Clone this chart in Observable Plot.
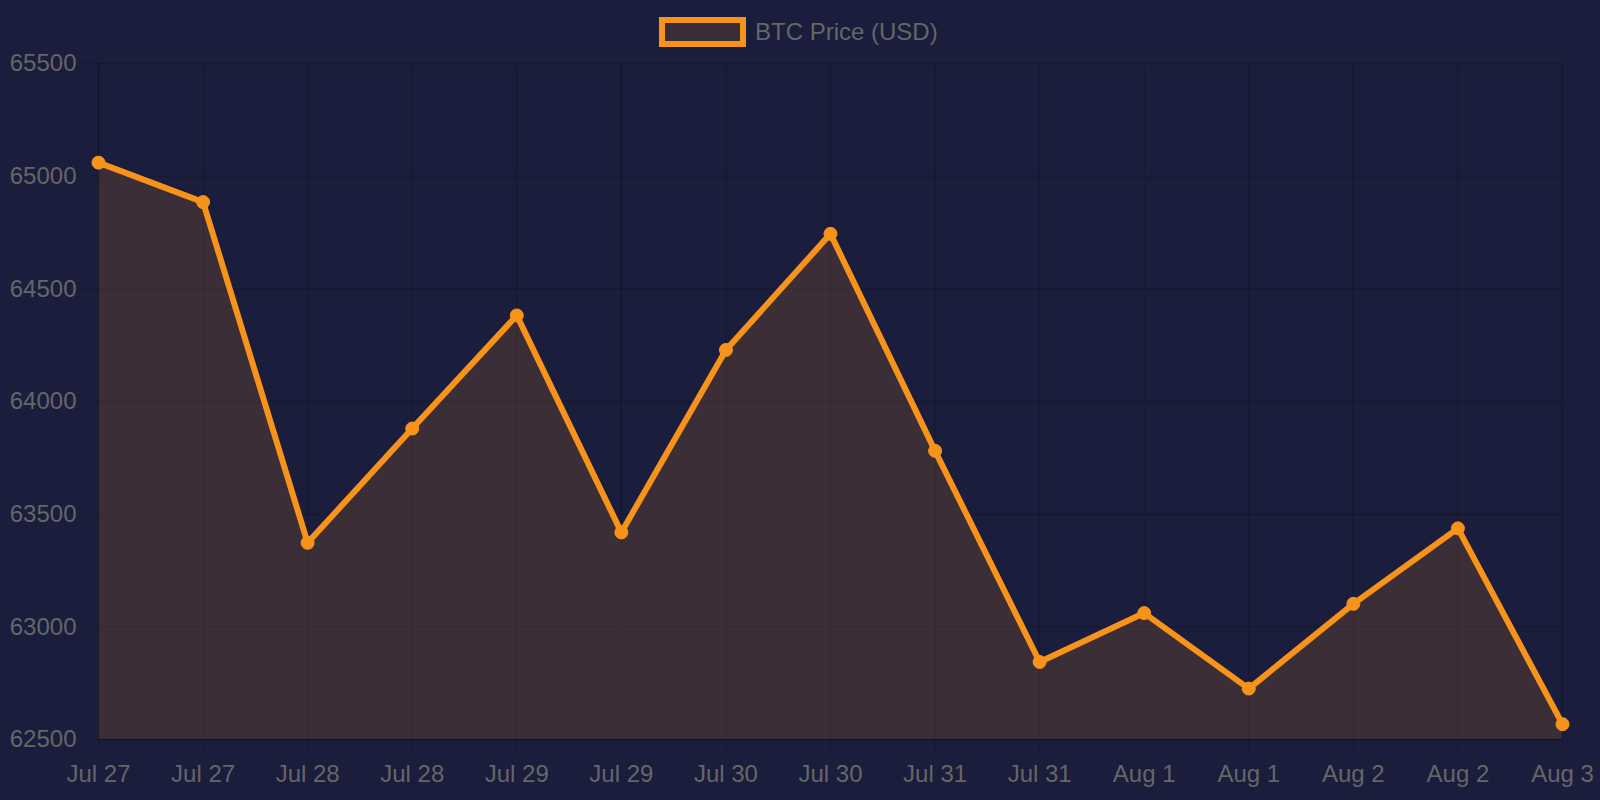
<!DOCTYPE html>
<html>
<head>
<meta charset="utf-8">
<script src="https://cdn.jsdelivr.net/npm/d3@7"></script>
<script src="https://cdn.jsdelivr.net/npm/@observablehq/plot@0.6"></script>
<style>
  html, body { margin: 0; padding: 0; background: #1a1d3b; width: 1600px; height: 800px; overflow: hidden; }
  #legend { height: 48px; position: relative; font-family: "Liberation Sans", Arial, sans-serif; }
  #legend .box { position: absolute; left: 659px; top: 17px; width: 75px; height: 18px; border: 6px solid #f7931a; background: rgba(247,147,26,0.15); }
  #legend .label { position: absolute; left: 755px; top: 17px; line-height: 30px; font-size: 24px; color: #666666; }
  svg { display: block; }
</style>
</head>
<body>
<div id="legend"><div class="box"></div><div class="label">BTC Price (USD)</div></div>
<div id="chart"></div>
<script>
const labels = ["Jul 27","Jul 27","Jul 28","Jul 28","Jul 29","Jul 29","Jul 30","Jul 30","Jul 31","Jul 31","Aug 1","Aug 1","Aug 2","Aug 2","Aug 3"];
const prices = [65060, 64885, 63373, 63880, 64382, 63419, 64229, 64744, 63781, 62844, 63061, 62726, 63102, 63437, 62568];
const yTicks = [62500, 63000, 63500, 64000, 64500, 65000, 65500];
const seriesName = "BTC Price (USD)";

const data = prices.map((p, i) => ({i, label: labels[i], price: p}));
const orange = "#f7931a";
const gridColor = "rgba(0,0,0,0.11)";

const chart = Plot.plot({
  width: 1600,
  height: 752,
  marginTop: 15,
  marginBottom: 61,
  marginLeft: 98,
  marginRight: 38,
  style: { background: "transparent", fontFamily: "'Liberation Sans', Arial, sans-serif", fontSize: "24px", color: "#666666" },
  x: { domain: [0, labels.length - 1] },
  y: { domain: [62500, 65500] },
  marks: [
    Plot.gridX(d3.range(labels.length), { stroke: gridColor, strokeOpacity: 1, strokeWidth: 1.5 }),
    Plot.gridY(yTicks, { stroke: gridColor, strokeOpacity: 1, strokeWidth: 1.5 }),
    Plot.areaY(data, { x: "i", y1: 62500, y2: "price", fill: orange, fillOpacity: 0.15 }),
    Plot.axisX(d3.range(labels.length), { tickFormat: i => labels[i], tickSize: 18, tickPadding: 7, stroke: gridColor, strokeOpacity: 1, fill: "#666666", fontSize: 24, label: null }),
    Plot.axisY(yTicks, { tickFormat: d => String(d), tickSize: 18, tickPadding: 4, stroke: gridColor, strokeOpacity: 1, fill: "#666666", fontSize: 24, label: null }),
    Plot.ruleX([0], { stroke: "rgba(0,0,0,0.25)", strokeWidth: 1.5 }),
    Plot.ruleY([62500], { stroke: "rgba(0,0,0,0.25)", strokeWidth: 1.5 }),
    Plot.line(data, { x: "i", y: "price", stroke: orange, strokeWidth: 6, strokeLinejoin: "round" }),
    Plot.dot(data, { x: "i", y: "price", r: 6.5, fill: orange, stroke: orange, strokeWidth: 1 })
  ]
});
document.getElementById("chart").appendChild(chart);
</script>
</body>
</html>
